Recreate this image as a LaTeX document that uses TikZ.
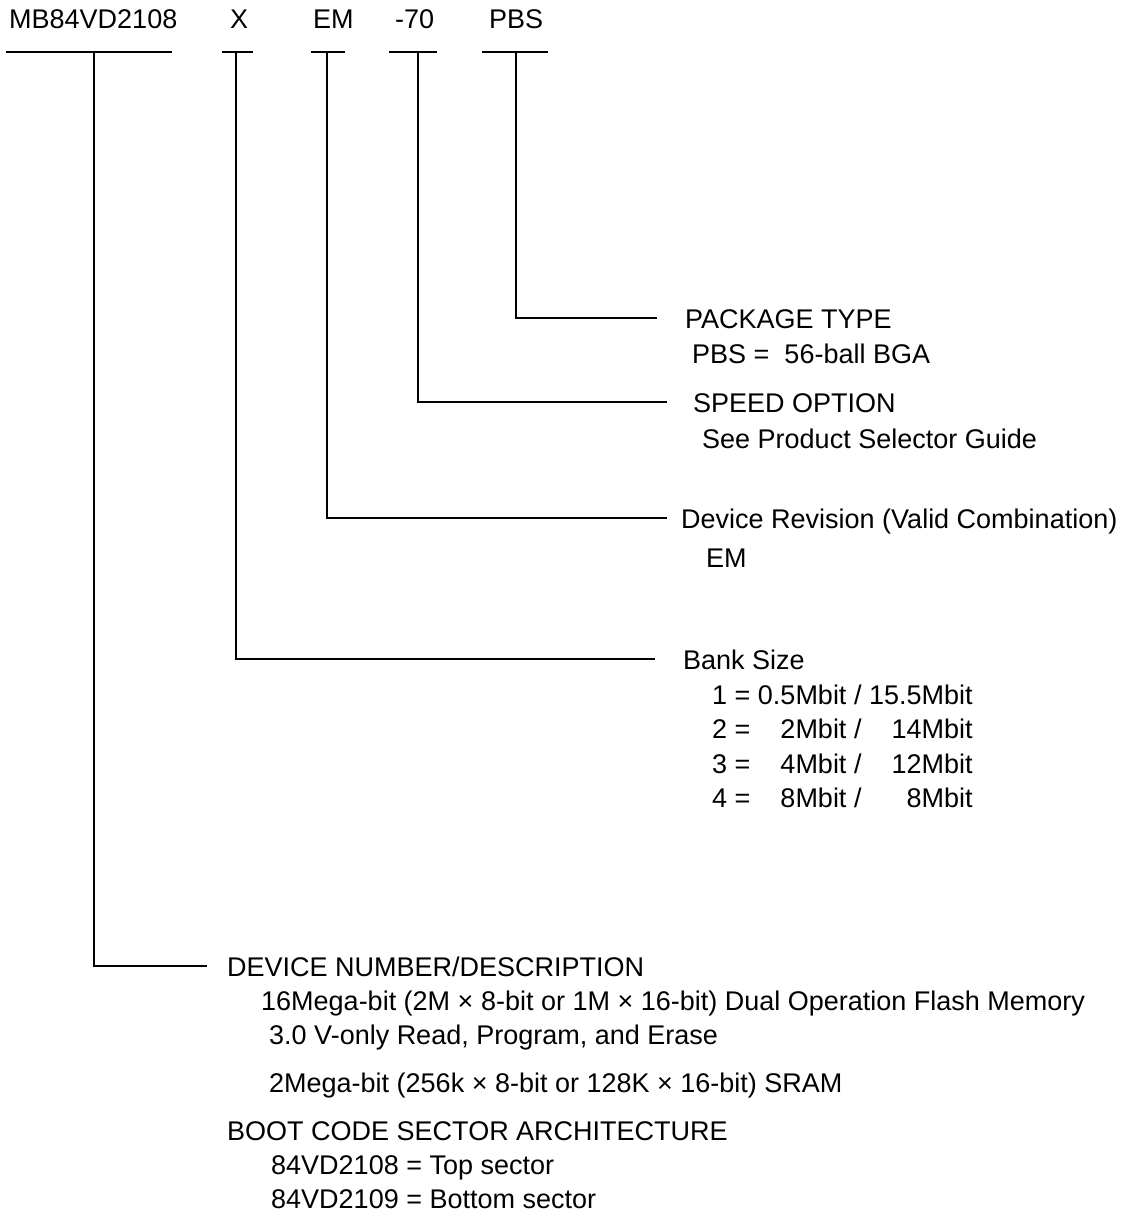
\documentclass[tikz,border=0pt]{standalone}
\usepackage{fontspec}
\setmainfont{Liberation Sans}
\usetikzlibrary{positioning}
\newcommand{\pnfont}{\fontsize{27}{34.5}\selectfont}

\begin{document}
\begin{tikzpicture}[x=1pt, y=-1pt,
  every node/.style={inner sep=0pt, font=\pnfont},
  code/.style={anchor=base west},
  field/.style={anchor=base west, text height=19.3pt, text depth=0pt},
  sub/.style={anchor=base west},
  lead/.style={line width=2pt}]
\useasboundingbox (0,0) rectangle (1121,1219);

% part number
\node[code] (mb) at (9,28) {MB84VD2108};
\node[code] (bx) at (230,28) {X};
\node[code] (rv) at (313,28) {EM};
\node[code] (sp) at (395,28) {-70};
\node[code] (pk) at (489,28) {PBS};

% underlines
\draw[lead] (6,52) -- (172,52);
\draw[lead] (222,52) -- (253,52);
\draw[lead] (311,52) -- (345,52);
\draw[lead] (389,52) -- (437,52);
\draw[lead] (482,52) -- (548,52);
\coordinate (mbT) at (94,52);
\coordinate (bxT) at (236,52);
\coordinate (rvT) at (327,52);
\coordinate (spT) at (418,52);
\coordinate (pkT) at (516,52);

% fields
\node[field] (pkF) at (685,328) {PACKAGE TYPE};
\node[below=35pt of pkF.base west, sub, xshift=7pt] (pkV) {PBS = \ 56-ball BGA};

\node[field] (spF) at (693,412) {SPEED OPTION};
\node[below=36pt of spF.base west, sub, xshift=9pt] (spV) {See Product Selector Guide};

\node[field] (rvF) at (681,528) {Device Revision (Valid Combination)};
\node[below=39pt of rvF.base west, sub, xshift=25pt] (rvV) {EM};

\node[field] (bxF) at (683,669) {Bank Size};
\node[below=35pt of bxF.base west, sub, xshift=29pt] (bxV)
  {\begin{tabular}[t]{@{}l@{\ }r@{\ /\ }r@{}}
    1 = & 0.5Mbit & 15.5Mbit\\
    2 = & 2Mbit & 14Mbit\\
    3 = & 4Mbit & 12Mbit\\
    4 = & 8Mbit & 8Mbit
  \end{tabular}};

\node[field] (mbF) at (227,976) {DEVICE NUMBER/DESCRIPTION};
\node[below=34pt of mbF.base west, sub, xshift=34pt] (mbV1) {16Mega-bit (2M × 8-bit or 1M × 16-bit) Dual Operation Flash Memory};
\node[below=34pt of mbV1.base west, sub, xshift=8pt] (mbV2) {3.0 V-only Read, Program, and Erase};
\node[below=48pt of mbV2.base west, sub] (mbV3) {2Mega-bit (256k × 8-bit or 128K × 16-bit) SRAM};
\node[below=48pt of mbV3.base west, sub, xshift=-42pt] (btF) {BOOT CODE SECTOR ARCHITECTURE};
\node[below=34pt of btF.base west, sub, xshift=44pt] (btV1) {84VD2108 = Top sector};
\node[below=34pt of btV1.base west, sub] (btV2) {84VD2109 = Bottom sector};

% leaders
\draw[lead] (pkT) |- ([xshift=-28pt]pkF.west);
\draw[lead] (spT) |- ([xshift=-26pt]spF.west);
\draw[lead] (rvT) |- ([xshift=-14pt]rvF.west);
\draw[lead] (bxT) |- ([xshift=-28pt]bxF.west);
\draw[lead] (mbT) |- ([xshift=-20pt]mbF.west);
\end{tikzpicture}
\end{document}
